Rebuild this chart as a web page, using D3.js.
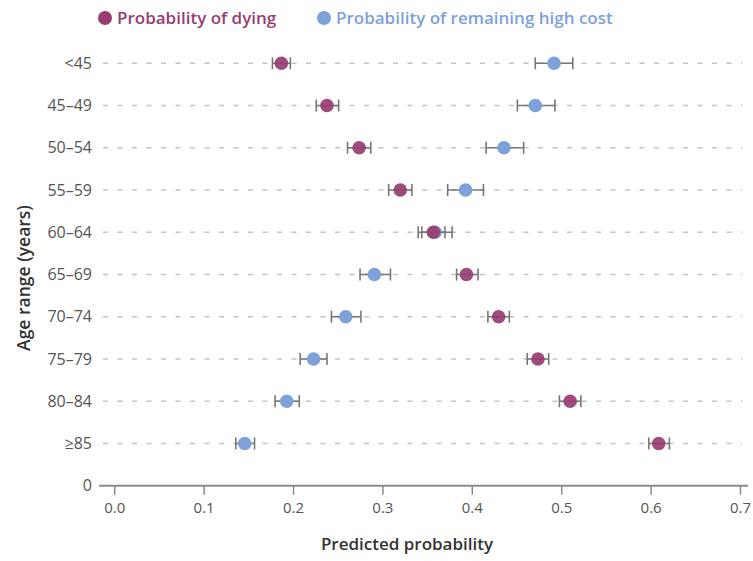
<!DOCTYPE html>
<html>
<head>
<meta charset="utf-8">
<style>
  body { margin: 0; background: #fff; }
  text { font-family: "Open Sans", sans-serif; }
</style>
</head>
<body>
<div id="chart"></div>
<script src="https://cdn.jsdelivr.net/npm/d3@7"></script>
<script>
// Age groups, bottom to top position 1..10 (0 is the empty baseline tick)
var ageLabels = ["≥85", "80–84", "75–79", "70–74", "65–69", "60–64", "55–59", "50–54", "45–49", "<45"];

// Probability of dying: estimate and 95% interval
var dyingValues = [0.609, 0.510, 0.474, 0.430, 0.394, 0.357, 0.320, 0.274, 0.238, 0.187];
var dyingLow    = [0.598, 0.498, 0.462, 0.418, 0.383, 0.344, 0.307, 0.261, 0.226, 0.177];
var dyingHigh   = [0.621, 0.522, 0.486, 0.442, 0.407, 0.370, 0.333, 0.287, 0.251, 0.197];

// Probability of remaining high cost
var costValues = [0.146, 0.193, 0.223, 0.259, 0.291, 0.359, 0.393, 0.436, 0.471, 0.492];
var costLow    = [0.136, 0.180, 0.208, 0.243, 0.275, 0.340, 0.373, 0.416, 0.451, 0.471];
var costHigh   = [0.157, 0.207, 0.238, 0.276, 0.309, 0.378, 0.413, 0.458, 0.493, 0.513];

var xTicks = [0, 0.1, 0.2, 0.3, 0.4, 0.5, 0.6, 0.7];

var dyingColor = "#973d72";
var costColor = "#7ea1da";

var width = 753, height = 561;
var svg = d3.select("#chart").append("svg")
  .attr("width", width)
  .attr("height", height);

var x = d3.scaleLinear().domain([0, 0.7]).range([114.2, 740]);
var y = d3.scaleLinear().domain([0, 10]).range([485.7, 63.3]);

// dashed row guides
svg.append("g").selectAll("line")
  .data(ageLabels)
  .join("line")
  .attr("x1", 103).attr("x2", 742)
  .attr("y1", function (d, i) { return y(i + 1); })
  .attr("y2", function (d, i) { return y(i + 1); })
  .attr("stroke", "#c4c4c4")
  .attr("stroke-width", 1.5)
  .attr("stroke-dasharray", "5,9.5");

// x axis
var xAxis = svg.append("g")
  .attr("transform", "translate(0," + y(0) + ")")
  .call(d3.axisBottom(x).tickValues(xTicks).tickFormat(d3.format(".1f")).tickSize(9).tickPadding(8));
xAxis.select(".domain").remove();
xAxis.append("line")
  .attr("x1", 99).attr("x2", 748)
  .attr("stroke", "#8a8a8a").attr("stroke-width", 2);
xAxis.selectAll(".tick line").attr("stroke", "#8a8a8a").attr("stroke-width", 1.5);
xAxis.selectAll(".tick text")
  .attr("fill", "#555").style("font-size", "15px");

// y labels
var yLabels = ["0"].concat(ageLabels);
svg.append("g").selectAll("text")
  .data(yLabels)
  .join("text")
  .attr("x", 92)
  .attr("y", function (d, i) { return y(i); })
  .attr("dy", "0.35em")
  .attr("text-anchor", "end")
  .attr("fill", "#555")
  .style("font-size", "16px")
  .text(function (d) { return d; });

// axis titles
svg.append("text")
  .attr("transform", "translate(30,278) rotate(-90)")
  .attr("text-anchor", "middle")
  .attr("fill", "#333")
  .style("font-size", "17.5px")
  .style("font-weight", "600")
  .text("Age range (years)");

svg.append("text")
  .attr("x", 407).attr("y", 550)
  .attr("text-anchor", "middle")
  .attr("fill", "#333")
  .style("font-size", "17px")
  .style("font-weight", "600")
  .text("Predicted probability");

function drawSeries(vals, lows, highs, color, opacity) {
  var g = svg.append("g");
  var rows = vals.map(function (v, i) { return { v: v, lo: lows[i], hi: highs[i], pos: i + 1 }; });
  var eb = g.selectAll("g.err").data(rows).join("g").attr("class", "err")
    .attr("stroke", "#777").attr("stroke-width", 1.6);
  eb.append("line")
    .attr("x1", function (d) { return x(d.lo); })
    .attr("x2", function (d) { return x(d.hi); })
    .attr("y1", function (d) { return y(d.pos); })
    .attr("y2", function (d) { return y(d.pos); });
  eb.append("line")
    .attr("x1", function (d) { return x(d.lo); })
    .attr("x2", function (d) { return x(d.lo); })
    .attr("y1", function (d) { return y(d.pos) - 6; })
    .attr("y2", function (d) { return y(d.pos) + 6; });
  eb.append("line")
    .attr("x1", function (d) { return x(d.hi); })
    .attr("x2", function (d) { return x(d.hi); })
    .attr("y1", function (d) { return y(d.pos) - 6; })
    .attr("y2", function (d) { return y(d.pos) + 6; });
  g.selectAll("circle").data(rows).join("circle")
    .attr("cx", function (d) { return x(d.v); })
    .attr("cy", function (d) { return y(d.pos); })
    .attr("r", 6.8)
    .attr("fill", color)
    .attr("fill-opacity", opacity);
}

drawSeries(costValues, costLow, costHigh, costColor, 1);
drawSeries(dyingValues, dyingLow, dyingHigh, dyingColor, 0.92);

// legend
var legend = svg.append("g").style("font-size", "17px").style("font-weight", "600");
legend.append("circle").attr("cx", 105).attr("cy", 18).attr("r", 7).attr("fill", dyingColor);
legend.append("text").attr("x", 117).attr("y", 18).attr("dy", "0.35em").attr("fill", dyingColor)
  .text("Probability of dying");
legend.append("circle").attr("cx", 324).attr("cy", 18).attr("r", 7).attr("fill", costColor);
legend.append("text").attr("x", 336).attr("y", 18).attr("dy", "0.35em").attr("fill", costColor)
  .text("Probability of remaining high cost");
</script>
</body>
</html>
